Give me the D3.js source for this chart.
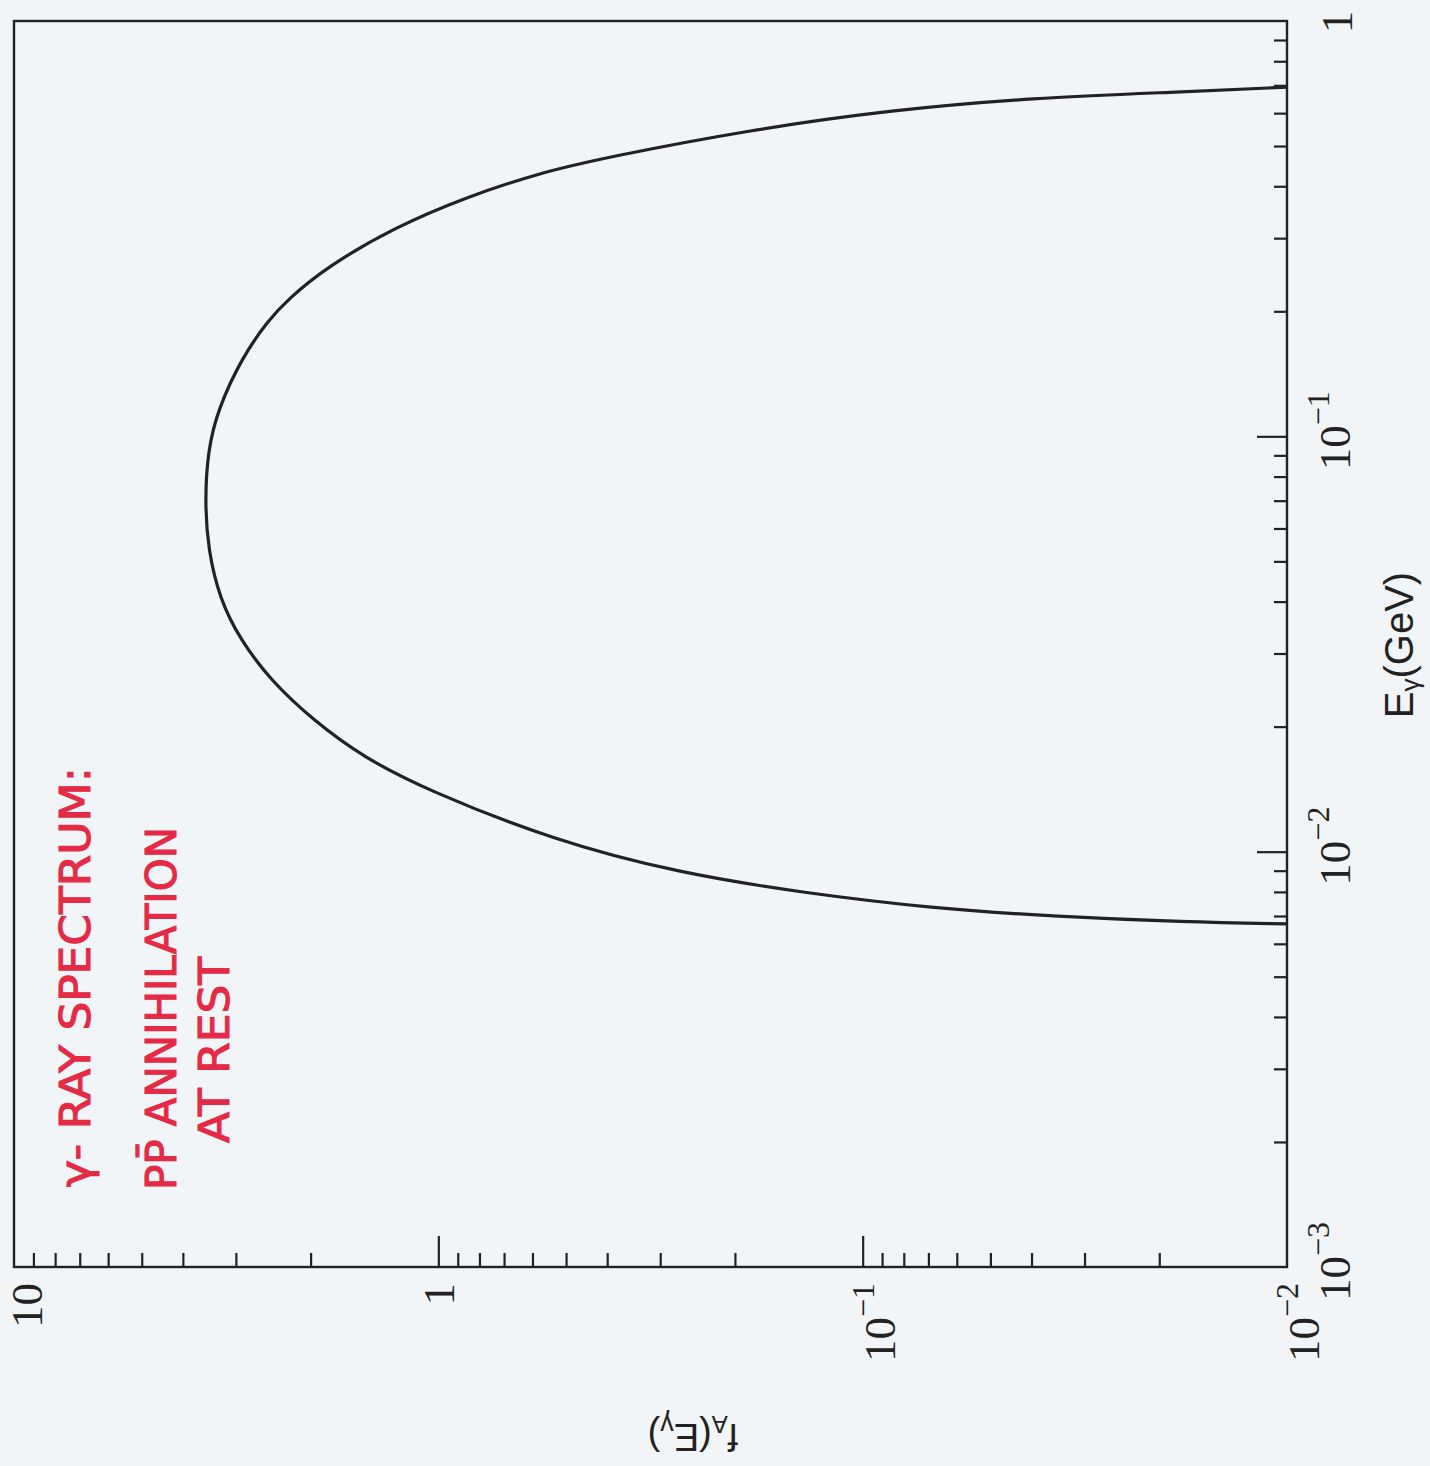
<!DOCTYPE html>
<html>
<head>
<meta charset="utf-8">
<script src="https://cdn.jsdelivr.net/npm/d3@7"></script>
<style>
  html, body { margin: 0; padding: 0; background: #f2f5f8; }
  svg { display: block; }
</style>
</head>
<body>
<svg id="chart" width="1430" height="1466"></svg>
<script>
// ---- data (E in GeV, f_A dimensionless) ----
const energyGeV = [0.0067, 0.00677, 0.00697, 0.00731, 0.00795, 0.00888, 0.01066, 0.0141, 0.0169, 0.0207,
                   0.0259, 0.0324, 0.0404, 0.0533, 0.0703, 0.0927, 0.116, 0.155, 0.190, 0.213, 0.256,
                   0.319, 0.377, 0.430, 0.471, 0.547, 0.611, 0.653, 0.674, 0.693];
const fluxFA   = [0.0100, 0.0175, 0.0346, 0.069, 0.137, 0.271, 0.537, 1.07, 1.505, 1.97,
                   2.49, 2.93, 3.27, 3.49, 3.55, 3.49, 3.31, 2.90, 2.52, 2.27, 1.83,
                   1.265, 0.856, 0.582, 0.396, 0.184, 0.0852, 0.0397, 0.01835, 0.0100];

const eMajorTicks = [0.001, 0.01, 0.1, 1];
const eTickLabels = [{base: "10", exp: "−3"}, {base: "10", exp: "−2"}, {base: "10", exp: "−1"}, {base: "1", exp: ""}];
const fMajorTicks = [10, 1, 0.1, 0.01];
const fTickLabels = [{base: "10", exp: ""}, {base: "1", exp: ""}, {base: "10", exp: "−1"}, {base: "10", exp: "−2"}];
const annotationLines = ["γ- RAY SPECTRUM:", "PP̄ ANNIHILATION", "AT REST"];

// ---- layout (page is a scanned plot rotated 90°) ----
const svg = d3.select("#chart");
const W = 1430, H = 1466;
const box = {left: 14, right: 1287, top: 21, bottom: 1267};
const ink = "#222";

svg.append("rect").attr("width", W).attr("height", H).attr("fill", "#f2f5f8");

// f_A runs horizontally (10 at left -> 10^-2 at right), E runs vertically (10^-3 bottom -> 1 top)
const fScale = d3.scaleLog().domain([10, 0.01]).range([box.left, box.right]);
const eScale = d3.scaleLog().domain([0.001, 1]).range([box.bottom, box.top]);

function minorTicks(domainLo, domainHi) {
  const out = [];
  for (let k = Math.floor(Math.log10(domainLo)); k < Math.ceil(Math.log10(domainHi)); k++) {
    for (let m = 2; m <= 9; m++) out.push(m * Math.pow(10, k));
  }
  return out;
}
const fMinor = minorTicks(0.01, 10);
const eMinor = minorTicks(0.001, 1);

// bottom axis (f_A) ticks pointing inward (up)
const bottomMajor = d3.axisTop(fScale).tickValues(fMajorTicks.filter(v => v !== 10 && v !== 0.01)).tickSize(31).tickFormat("");
const bottomMinor = d3.axisTop(fScale).tickValues(fMinor).tickSize(14).tickFormat("");
[bottomMajor, bottomMinor].forEach(ax => {
  const g = svg.append("g").attr("transform", `translate(0,${box.bottom})`).call(ax);
  g.select(".domain").remove();
  g.selectAll("line").attr("stroke", ink).attr("stroke-width", 2.2);
});

// right axis (E) ticks pointing inward (left)
const rightMajor = d3.axisLeft(eScale).tickValues(eMajorTicks.filter(v => v !== 0.001 && v !== 1)).tickSize(30).tickFormat("");
const rightMinor = d3.axisLeft(eScale).tickValues(eMinor).tickSize(13).tickFormat("");
[rightMajor, rightMinor].forEach(ax => {
  const g = svg.append("g").attr("transform", `translate(${box.right},0)`).call(ax);
  g.select(".domain").remove();
  g.selectAll("line").attr("stroke", ink).attr("stroke-width", 2.2);
});

// frame
svg.append("rect")
  .attr("x", box.left).attr("y", box.top)
  .attr("width", box.right - box.left).attr("height", box.bottom - box.top)
  .attr("fill", "none").attr("stroke", ink).attr("stroke-width", 2.4);

// curve
const pts = energyGeV.map((e, i) => ({e, f: fluxFA[i]}));
const line = d3.line().x(d => fScale(d.f)).y(d => eScale(d.e)).curve(d3.curveBasis);
svg.append("path").datum(pts).attr("d", line)
  .attr("fill", "none").attr("stroke", ink).attr("stroke-width", 3.2).attr("stroke-linejoin", "round");

// tick labels (rotated -90, reading bottom to top)
const tickFont = "'Liberation Serif', 'Times New Roman', serif";
function addLabel(x, y, anchor, lab) {
  const t = svg.append("text")
    .attr("transform", `translate(${x},${y}) rotate(-90)`)
    .attr("text-anchor", anchor)
    .attr("font-family", tickFont).attr("font-size", 45).attr("fill", ink);
  t.append("tspan").text(lab.base);
  if (lab.exp) t.append("tspan").attr("dy", -21).attr("font-size", 32).text(lab.exp);
}
fMajorTicks.forEach((v, i) => {
  const lab = fTickLabels[i];
  let x = fScale(v) + (lab.exp ? 32 : 16);
  if (i === 0) x = 42;
  addLabel(x, box.bottom + 16, "end", lab);
});
eMajorTicks.forEach((v, i) => {
  const lab = eTickLabels[i];
  if (lab.exp) addLabel(1350, eScale(v) + 34, "start", lab);
  else addLabel(1352, eScale(v) + 1, "middle", lab);
});

// axis titles
const sans = "'Liberation Sans', Arial, sans-serif";
const xt = svg.append("text")
  .attr("transform", "translate(1413,645) rotate(-90)")
  .attr("text-anchor", "middle").attr("font-family", sans).attr("font-size", 40).attr("fill", ink);
xt.append("tspan").text("E");
xt.append("tspan").attr("dy", 6).attr("font-size", 26).text("γ");
xt.append("tspan").attr("dy", -6).text("(GeV)");

const yt = svg.append("text")
  .attr("transform", "translate(693,1424) rotate(180)")
  .attr("text-anchor", "middle").attr("font-family", sans).attr("font-size", 38).attr("fill", ink);
yt.append("tspan").text("f");
yt.append("tspan").attr("dy", 8).attr("font-size", 24).text("A");
yt.append("tspan").attr("dy", -8).text("(E");
yt.append("tspan").attr("dy", 8).attr("font-size", 27).text("γ");
yt.append("tspan").attr("dy", -8).text(")");

// red handwritten annotation
const red = "#e52a45";
const annPos = [{x: 90, y: 1187, len: 420}, {x: 176, y: 1190, len: 363}, {x: 229, y: 1143, len: 186}];
annotationLines.forEach((s, i) => {
  const p = annPos[i];
  svg.append("text")
    .attr("transform", `translate(${p.x},${p.y}) rotate(-90)`)
    .attr("font-family", "'DejaVu Sans Condensed', 'DejaVu Sans', sans-serif")
    .attr("font-weight", "normal")
    .attr("font-size", 42)
    .attr("stroke", red).attr("stroke-width", 1)
    .attr("textLength", p.len).attr("lengthAdjust", "spacingAndGlyphs")
    .attr("fill", red)
    .text(s);
});
</script>
</body>
</html>
